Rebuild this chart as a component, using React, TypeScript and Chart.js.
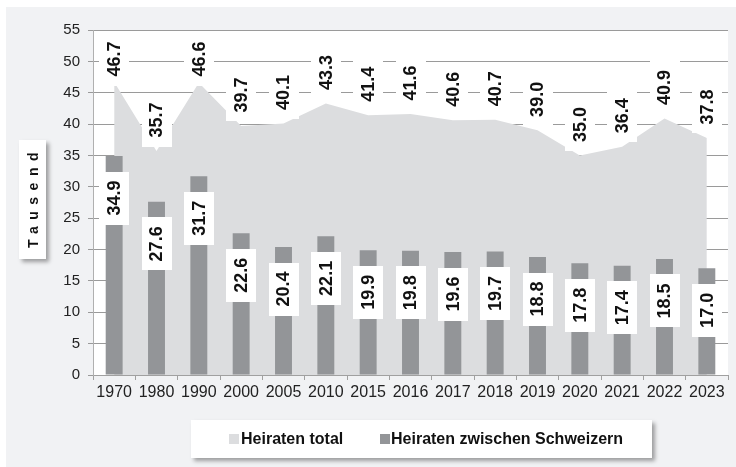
import React, { useEffect, useRef } from "react";
import { Chart, registerables } from "chart.js";

Chart.register(...registerables);

const categories = ["1970", "1980", "1990", "2000", "2005", "2010", "2015", "2016", "2017", "2018", "2019", "2020", "2021", "2022", "2023"];
const totalMarriages = [46.7, 35.7, 46.6, 39.7, 40.1, 43.3, 41.4, 41.6, 40.6, 40.7, 39.0, 35.0, 36.4, 40.9, 37.8];
const swissMarriages = [34.9, 27.6, 31.7, 22.6, 20.4, 22.1, 19.9, 19.8, 19.6, 19.7, 18.8, 17.8, 17.4, 18.5, 17.0];
const seriesNames = ["Heiraten total", "Heiraten zwischen Schweizern"];
const yAxisTitle = "Tausend";
const yMin = 0;
const yMax = 55;
const yStep = 5;

const AREA_COLOR = "#dcdddf";
const BAR_COLOR = "#939598";
const PANEL_COLOR = "#f1f2f4";
const FONT = "'Liberation Sans', Arial, sans-serif";

const plotBackground = {
  id: "plotBackground",
  beforeDraw(chart: any) {
    const { ctx, chartArea } = chart;
    ctx.save();
    ctx.fillStyle = "#ffffff";
    ctx.fillRect(chartArea.left, chartArea.top, chartArea.right - chartArea.left, chartArea.bottom - chartArea.top);
    ctx.restore();
  },
};

function drawLabel(ctx: CanvasRenderingContext2D, cx: number, cy: number, text: string) {
  const w = 30;
  const h = 53;
  ctx.save();
  ctx.fillStyle = "#ffffff";
  ctx.fillRect(Math.round(cx - w / 2), Math.round(cy - h / 2), w, h);
  ctx.translate(cx + 1, cy);
  ctx.rotate(-Math.PI / 2);
  ctx.fillStyle = "#111111";
  ctx.font = `bold 18px ${FONT}`;
  ctx.textAlign = "center";
  ctx.textBaseline = "middle";
  ctx.fillText(text, 0, 0);
  ctx.restore();
}

const valueLabels = {
  id: "valueLabels",
  afterDatasetsDraw(chart: any) {
    const { ctx, chartArea } = chart;
    const xs = chart.scales.x;
    const ys = chart.scales.y;
    categories.forEach((_, i) => {
      const cx = xs.getPixelForValue(i);
      const barTop = ys.getPixelForValue(swissMarriages[i]);
      drawLabel(ctx, cx, barTop + 42, swissMarriages[i].toFixed(1));
      const pt = ys.getPixelForValue(totalMarriages[i]);
      const cy = Math.max(pt - 31, chartArea.top + 29);
      drawLabel(ctx, cx, cy, totalMarriages[i].toFixed(1));
    });
  },
};

export default function App() {
  const canvasRef = useRef<HTMLCanvasElement | null>(null);

  useEffect(() => {
    document.body.style.margin = "0";
    const canvas = canvasRef.current;
    if (!canvas) return;
    const chart = new Chart(canvas, {
      type: "bar",
      data: {
        labels: categories,
        datasets: [
          {
            type: "bar",
            label: seriesNames[1],
            data: swissMarriages,
            backgroundColor: BAR_COLOR,
            barPercentage: 0.4,
            categoryPercentage: 1,
            order: 1,
          } as any,
          {
            type: "line",
            label: seriesNames[0],
            data: totalMarriages,
            backgroundColor: AREA_COLOR,
            borderColor: "rgba(0,0,0,0)",
            borderWidth: 0,
            pointRadius: 0,
            fill: "origin",
            tension: 0,
            order: 2,
          } as any,
        ],
      },
      options: {
        responsive: false,
        animation: false,
        devicePixelRatio: 1,
        layout: { padding: { left: 0, top: 30, right: 8, bottom: 0 } },
        plugins: {
          legend: { display: false },
          tooltip: { enabled: false },
        },
        scales: {
          x: {
            offset: true,
            grid: {
              offset: true,
              drawOnChartArea: false,
              drawTicks: true,
              tickLength: 5,
              color: "#a0a0a0",
            },
            border: { color: "#a0a0a0" },
            ticks: {
              autoSkip: false,
              maxRotation: 0,
              padding: 3,
              color: "#222222",
              font: { family: FONT, size: 16 },
            },
            afterFit(scale: any) {
              scale.height = 92;
            },
          },
          y: {
            min: yMin,
            max: yMax,
            ticks: {
              stepSize: yStep,
              padding: 8,
              color: "#222222",
              font: { family: FONT, size: 15 },
            },
            grid: { color: "#9a9a9a", tickLength: 5 },
            border: { color: "#b0b0b0" },
            afterFit(scale: any) {
              scale.width = 93;
            },
          },
        },
      } as any,
      plugins: [plotBackground, valueLabels],
    });
    return () => chart.destroy();
  }, []);

  return (
    <div style={{ position: "relative", width: 736, height: 467, overflow: "hidden", background: "#ffffff" }}>
      <div style={{ position: "absolute", left: 6, top: 7, width: 730, height: 460, background: PANEL_COLOR }} />
      <canvas ref={canvasRef} width={736} height={467} style={{ position: "absolute", left: 0, top: 0, width: 736, height: 467 }} />
      <div
        style={{
          position: "absolute",
          left: 19,
          top: 140,
          width: 27,
          height: 119,
          background: "#ffffff",
          boxShadow: "3px 3px 4px rgba(0,0,0,0.35)",
        }}
      >
        <div
          style={{
            position: "absolute",
            left: "50%",
            top: "50%",
            transform: "translate(-50%, -50%) rotate(-90deg)",
            whiteSpace: "nowrap",
            fontFamily: FONT,
            fontWeight: "bold",
            fontSize: 14,
            letterSpacing: "6.5px",
            color: "#111",
            paddingLeft: 6,
          }}
        >
          {yAxisTitle}
        </div>
      </div>
      <div
        style={{
          position: "absolute",
          left: 191,
          top: 420,
          width: 461,
          height: 38,
          background: "#ffffff",
          boxShadow: "3px 3px 4px rgba(0,0,0,0.35)",
          fontFamily: FONT,
          fontWeight: "bold",
          fontSize: 16,
          color: "#111",
        }}
      >
        <div style={{ position: "absolute", left: 38, top: 14, width: 10, height: 10, background: AREA_COLOR }} />
        <div style={{ position: "absolute", left: 50, top: 10, lineHeight: "18px", whiteSpace: "nowrap" }}>{seriesNames[0]}</div>
        <div style={{ position: "absolute", left: 189, top: 14, width: 10, height: 10, background: BAR_COLOR }} />
        <div style={{ position: "absolute", left: 200, top: 10, lineHeight: "18px", whiteSpace: "nowrap" }}>{seriesNames[1]}</div>
      </div>
    </div>
  );
}
